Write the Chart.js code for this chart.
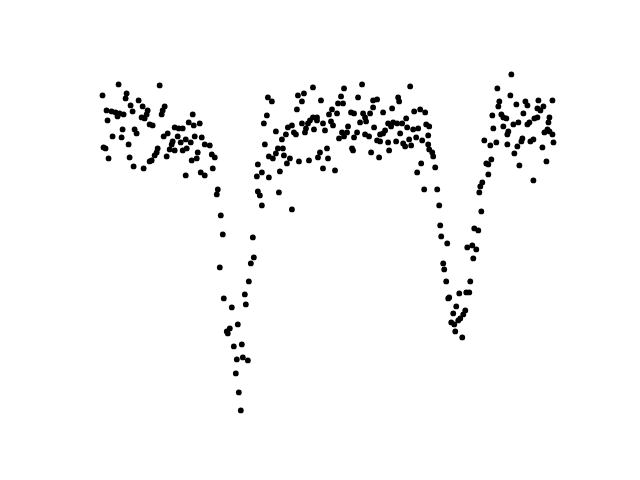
<!DOCTYPE html>
<html>
<head>
<meta charset="utf-8">
<script src="https://cdn.jsdelivr.net/npm/chart.js@4/dist/chart.umd.min.js"></script>
<style>
html,body{margin:0;padding:0;background:#fff;}
canvas{display:block;}
</style>
</head>
<body>
<canvas id="c" width="640" height="480"></canvas>
<script>
// Light-curve readings: [time, relative magnitude] (magnitude axis inverted)
const leftPlateau = [
[19,14],[60,15],[3,25],[27,23],[26,28],[39,30],[31,35],[43,36],[65,36],[48,40],
[7,40],[12,41],[16,42],[20,43],[24,44],[33,41],[63,40],[47,44],[62,44],[18,46],
[42,47],[45,48],[8,50],[50,54],[53,55],[23,59],[35,59],[37,63],[68,63],[13,66],
[22,67],[64,66],[29,74],[4,77],[6,78],[58,78],[57,82],[55,85],[67,86],[9,88],
[30,87],[52,90],[50,91],[34,96],[44,98],
[93,44],[89,52],[94,55],[100,53],[75,57],[79,58],[83,58],[78,66],[86,69],[95,66],
[102,67],[73,71],[81,72],[91,72],[105,74],[110,75],[72,74],[70,79],[75,80],[83,80],
[87,78],[98,82],[112,84],[115,87],[97,88],[92,90],[113,98],[86,105],[101,102],[105,105],
[118,119],[117,124]
];
const primaryDip = [
[121,145],[123,164],[153,167],[154,187],[151,193],[120,197],[149,211],[145,224],
[124,228],[132,237],[146,234],[138,254],[130,258],[127,261],[128,263],[134,276],
[142,274],[137,289],[143,287],[148,290],[136,303],[139,322],[141,340]
];
const midPlateau = [
[213,17],[198,25],[204,23],[168,27],[172,31],[202,31],[221,30],[197,39],[167,45],[164,53],
[210,50],[213,47],[217,47],[217,50],[208,53],[202,53],[192,55],[188,57],[206,58],[214,59],
[223,53],[176,61],[194,62],[196,64],[186,64],[205,62],[182,69],[165,74],[178,78],[183,78],
[176,83],[169,86],[173,88],[184,85],[190,88],[187,93],[199,91],[209,90],[218,87],[220,82],
[158,94],[223,98],[162,102],[157,106],[180,101],[169,107],[158,121],[160,125],[179,122],
[162,135],[192,139],
[262,14],[244,18],[241,26],[238,33],[243,33],[258,27],[273,30],[277,29],[273,37],[232,39],
[237,43],[229,44],[251,42],[254,43],[263,43],[270,43],[265,47],[266,51],[260,52],[231,51],
[233,55],[248,56],[274,57],[225,60],[257,62],[247,62],[242,62],[244,66],[265,64],[269,66],
[239,68],[254,67],[280,64],[252,78],[253,80],[271,82],[227,78],[228,88],[279,87],[235,100],
[310,16],[298,27],[299,31],[283,42],[292,38],[314,41],[320,39],[325,42],[306,48],[288,53],
[293,52],[297,53],[302,53],[291,56],[307,57],[326,54],[329,56],[313,59],[318,58],[285,60],
[283,63],[300,63],[328,65],[277,70],[280,71],[288,72],[296,71],[303,73],[309,69],[316,67],
[322,70],[305,76],[311,75],[289,80],[328,74],[329,79],[332,82],[333,86],[321,93],[335,97],
[317,102],[324,119],[337,119]
];
const secondaryDip = [
[379,122],[339,135],[381,141],[340,155],[374,158],[378,160],[341,166],[347,173],[372,175],
[367,177],[376,179],[373,188],[343,193],[344,199],[346,211],[370,211],[359,223],[366,222],
[369,222],[349,227],[348,228],[356,236],[365,240],[363,244],[353,243],[360,248],[358,250],
[351,252],[354,254],[355,261],[362,267]
];
const rightPlateau = [
[411,4],[397,18],[410,25],[399,31],[398,36],[416,34],[425,31],[427,35],[438,30],[452,30],
[443,36],[437,38],[440,40],[392,45],[401,44],[403,47],[406,48],[423,43],[437,47],[434,48],
[449,47],[448,52],[418,52],[413,54],[427,54],[429,52],[403,56],[393,58],[447,59],[449,61],
[408,61],[407,64],[444,62],[452,64],[422,68],[421,71],[430,71],[433,69],[384,70],[396,72],
[390,75],[407,74],[417,76],[453,72],[442,77],[414,83],[391,89],[386,93],[388,94],[446,91],
[419,95],[388,104],[433,110],[382,112],[380,116]
];

const allPts = [].concat(leftPlateau, primaryDip, midPlateau, secondaryDip, rightPlateau)
  .map(p => ({x: p[0], y: p[1]}));

function bounds(vals){
  const mn = Math.min(...vals), mx = Math.max(...vals);
  const m = (mx - mn) * 0.05;
  return [mn - m, mx + m];
}
const xb = bounds(allPts.map(p => p.x));
const yb = bounds(allPts.map(p => p.y));

new Chart(document.getElementById('c'), {
  type: 'scatter',
  data: {
    datasets: [{
      data: allPts,
      backgroundColor: '#000000',
      borderWidth: 0,
      pointRadius: 2.9,
      pointHoverRadius: 2.9
    }]
  },
  options: {
    responsive: false,
    animation: false,
    layout: { padding: { left: 80, right: 64, top: 57.6, bottom: 52.8 } },
    plugins: { legend: { display: false }, tooltip: { enabled: false } },
    scales: {
      x: { type: 'linear', display: false, min: xb[0], max: xb[1] },
      y: { type: 'linear', display: false, reverse: true, min: yb[0], max: yb[1] }
    }
  }
});
</script>
</body>
</html>
